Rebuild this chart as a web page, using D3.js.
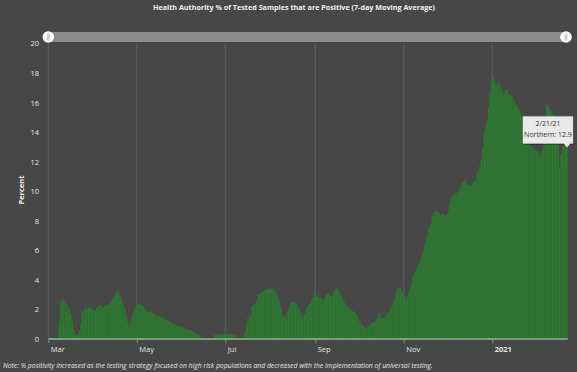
<!DOCTYPE html>
<html>
<head>
<meta charset="utf-8">
<script src="https://cdn.jsdelivr.net/npm/d3@7"></script>
<style>
  html, body { margin: 0; padding: 0; background: #474747; }
  svg { display: block; }
  text { font-family: "Open Sans", "DejaVu Sans", sans-serif; }
</style>
</head>
<body>
<svg id="chart" width="577" height="372"></svg>
<script>
// ---- data ----
const titleText = "Health Authority % of Tested Samples that are Positive (7-day Moving Average)";
const noteText = "Note: % positivity increased as the testing strategy focused on high risk populations and decreased with the implementation of universal testing.";
const seriesName = "Northern";
const yAxisTitle = "Percent";
const startDate = "2020-03-08";
const domainStart = "2020-03-01";
const domainEnd = "2021-02-22";
const values = [
  1.2, 2.5, 2.7, 2.6, 2.45, 2.35, 2.2,
  2.0, 1.7, 1.2, 0.6, 0.35, 0.3, 0.35,
  0.6, 1.1, 1.75, 1.95, 2.1, 2.05, 2.1,
  2.15, 2.1, 2.0, 1.95, 1.9, 2.1, 2.25,
  2.3, 2.2, 2.15, 2.2, 2.3, 2.25, 2.35,
  2.45, 2.6, 2.75, 2.9, 3.1, 3.25, 3.15,
  2.95, 2.7, 2.4, 2.1, 1.7, 1.2, 0.85,
  1.1, 1.4, 1.75, 2.1, 2.2, 2.3, 2.35,
  2.35, 2.3, 2.2, 2.05, 1.9, 1.85, 1.8,
  1.85, 1.8, 1.75, 1.7, 1.6, 1.6, 1.55,
  1.5, 1.45, 1.4, 1.35, 1.3, 1.25, 1.15,
  1.1, 1.05, 1.0, 0.95, 0.95, 0.9, 0.85,
  0.85, 0.8, 0.75, 0.7, 0.65, 0.6, 0.6,
  0.55, 0.5, 0.45, 0.4, 0.35, 0.3, 0.2,
  0.08, 0, 0, 0, 0, 0, 0,
  0, 0, 0.25, 0.3, 0.3, 0.35, 0.3,
  0.3, 0.35, 0.3, 0.3, 0.35, 0.3, 0.3,
  0.35, 0.3, 0.25, 0, 0, 0, 0,
  0, 0, 0.4, 0.9, 1.4, 1.5, 1.6,
  2.2, 2.3, 2.4, 2.6, 3.0, 3.05, 3.1,
  3.2, 3.25, 3.3, 3.4, 3.4, 3.35, 3.4,
  3.4, 3.3, 3.2, 3.0, 2.7, 2.5, 2.0,
  1.6, 1.5, 1.5, 1.8, 2.1, 2.3, 2.5,
  2.5, 2.45, 2.4, 2.3, 2.1, 1.9, 1.6,
  1.4, 1.7, 2.0, 2.2, 2.3, 2.4, 2.6,
  2.85, 3.1, 3.0, 2.85, 2.8, 2.75, 2.7,
  2.6, 2.8, 3.0, 3.05, 3.1, 2.95, 2.85,
  3.1, 3.3, 3.4, 3.4, 3.2, 3.0, 2.8,
  2.6, 2.4, 2.2, 2.15, 2.1, 2.0, 1.9,
  1.85, 1.75, 1.6, 1.4, 1.2, 1.05, 0.95,
  0.85, 0.75, 0.7, 0.85, 0.95, 1.05, 1.1,
  1.15, 1.2, 1.4, 1.6, 1.75, 1.4, 1.45,
  1.5, 1.55, 1.7, 1.85, 2.0, 2.2, 2.4,
  2.6, 3.0, 3.4, 3.45, 3.5, 3.3, 3.1,
  2.9, 2.75, 2.9, 3.2, 3.5, 3.9, 4.2,
  4.5, 4.7, 5.0, 5.1, 5.4, 5.7, 6.0,
  6.4, 6.8, 7.15, 7.5, 7.8, 8.3, 8.5,
  8.6, 8.7, 8.6, 8.55, 8.4, 8.45, 8.5,
  8.3, 8.4, 8.5, 9.05, 9.5, 9.7, 9.75,
  9.8, 9.85, 10.0, 10.2, 10.4, 10.6, 10.7,
  10.75, 10.5, 10.4, 10.4, 10.4, 10.6, 10.7,
  10.75, 11.2, 11.4, 11.7, 12.1, 13.0, 13.9,
  14.4, 14.8, 15.7, 16.6, 17.5, 17.75, 17.5,
  17.3, 17.2, 17.3, 17.1, 16.85, 16.5, 16.7,
  16.85, 16.85, 16.6, 16.4, 16.5, 16.2, 16.0,
  15.8, 15.7, 15.5, 15.3, 15.05, 14.8, 14.4,
  14.0, 13.6, 13.3, 13.1, 13.0, 12.9, 12.85,
  12.8, 12.7, 12.5, 12.3, 12.8, 13.5, 14.8,
  15.8, 15.8, 15.6, 15.4, 15.2, 14.6, 14.0,
  13.6, 13.3, 11.6, 12.5, 13.0, 13.1, 13.0,
  12.9
];
const yTicks = [0, 2, 4, 6, 8, 10, 12, 14, 16, 18, 20];
const xTickDates = ["2020-03-01", "2020-05-01", "2020-07-01", "2020-09-01", "2020-11-01", "2021-01-01"];
const xTickLabels = ["Mar", "May", "Jul", "Sep", "Nov", "2021"];

// ---- drawing ----
(function () {
const parse = d3.utcParse("%Y-%m-%d");
const start = parse(startDate);
const data = values.map((v, i) => ({ date: d3.utcDay.offset(start, i), value: v }));

const svg = d3.select("#chart");
const W = 577, H = 372;
const pLeft = 48.3, pRight = 567.7, pTop = 43.5, pBottom = 339;

svg.append("rect").attr("width", W).attr("height", H).attr("fill", "#474747");

const x = d3.scaleUtc().domain([parse(domainStart), parse(domainEnd)]).range([pLeft, pRight]);
const y = d3.scaleLinear().domain([0, 20]).range([pBottom, pTop]);

// title
svg.append("text")
  .attr("x", 294).attr("y", 10)
  .attr("text-anchor", "middle")
  .attr("font-size", 7.2).attr("font-weight", "bold")
  .attr("fill", "#f2f2f2")
  .text(titleText);

// vertical gridlines
const tickDates = xTickDates.map(parse);
svg.append("g").selectAll("line").data(tickDates).join("line")
  .attr("x1", d => x(d)).attr("x2", d => x(d))
  .attr("y1", pTop).attr("y2", pBottom)
  .attr("stroke", "#606060").attr("stroke-width", 1);

// bars
svg.append("g").selectAll("rect").data(data.filter(d => d.value > 0)).join("rect")
  .attr("x", d => x(d.date))
  .attr("width", d => x(d3.utcDay.offset(d.date, 1)) - x(d.date) + 0.15)
  .attr("y", d => y(d.value))
  .attr("height", d => y(0) - y(d.value))
  .attr("fill", "#2e7631");

// baseline
svg.append("line")
  .attr("x1", pLeft).attr("x2", pRight)
  .attr("y1", y(0)).attr("y2", y(0))
  .attr("stroke", "#7c9e7c").attr("stroke-width", 2);

// y axis
const yAxis = d3.axisLeft(y).tickValues(yTicks).tickSize(0).tickPadding(0).tickFormat(d3.format("d"));
const gy = svg.append("g").attr("transform", "translate(39,0)").call(yAxis);
gy.select(".domain").remove();
gy.selectAll("text").attr("fill", "#e6e6e6").attr("font-size", 7.5)
  .attr("font-family", "'Open Sans', 'DejaVu Sans', sans-serif");

// y title
svg.append("text")
  .attr("transform", "translate(24,190) rotate(-90)")
  .attr("text-anchor", "middle")
  .attr("font-size", 7.5).attr("font-weight", "bold")
  .attr("fill", "#f2f2f2")
  .text(yAxisTitle);

// x axis
const xAxis = d3.axisBottom(x).tickValues(tickDates).tickSize(3).tickPadding(4)
  .tickFormat((d, i) => xTickLabels[i]);
const gx = svg.append("g").attr("transform", `translate(0,${pBottom + 1})`).call(xAxis);
gx.select(".domain").remove();
gx.selectAll(".tick line").attr("stroke", "#8a8a8a");
gx.selectAll("text")
  .attr("text-anchor", "start").attr("dx", 2)
  .attr("fill", "#e6e6e6").attr("font-size", 7.5)
  .attr("font-family", "'Open Sans', 'DejaVu Sans', sans-serif")
  .attr("font-weight", (d, i) => xTickLabels[i] === "2021" ? "bold" : "normal");

// scrollbar
svg.append("rect")
  .attr("x", pLeft - 4).attr("y", 32).attr("width", pRight - pLeft + 2).attr("height", 10)
  .attr("fill", "#8b8b8b");
[pLeft, 566].forEach(cx => {
  svg.append("circle").attr("cx", cx).attr("cy", 37).attr("r", 5.8).attr("fill", "#ffffff");
  svg.append("rect").attr("x", cx - 1.6).attr("y", 33.5).attr("width", 3.2).attr("height", 7)
    .attr("rx", 1.2).attr("fill", "#d0d0d0");
});

// note
svg.append("text")
  .attr("x", 3).attr("y", 368)
  .attr("font-size", 6.8).attr("font-style", "italic")
  .attr("fill", "#e6e6e6")
  .text(noteText);

// tooltip for last point
const last = data[data.length - 1];
const tx = x(last.date) + (x(d3.utcDay.offset(last.date, 1)) - x(last.date)) / 2;
const ty = y(last.value);
const fmt = d3.utcFormat("%-m/%-d/%y");
const tip = svg.append("g");
const bw = 50, bh = 27;
const bx = tx - 44, by = ty - bh - 5;
tip.append("path")
  .attr("d", `M${bx + 1},${by + 1.5} h${bw} v${bh} H${bx + 1} Z`)
  .attr("fill", "#000").attr("opacity", 0.25);
tip.append("path")
  .attr("d", `M${bx},${by} h${bw} v${bh} h${-(bx + bw - tx - 3)} l-3,4 l-3,-4 H${bx} Z`)
  .attr("fill", "#e9e9e9").attr("stroke", "#cfcfcf").attr("stroke-width", 0.5);
tip.append("text").attr("x", bx + bw / 2).attr("y", by + 10)
  .attr("text-anchor", "middle").attr("font-size", 7).attr("fill", "#333")
  .text(fmt(last.date));
tip.append("text").attr("x", bx + bw / 2).attr("y", by + 21)
  .attr("text-anchor", "middle").attr("font-size", 7).attr("fill", "#333")
  .text(`${seriesName}: ${last.value}`);
})();
</script>
</body>
</html>
